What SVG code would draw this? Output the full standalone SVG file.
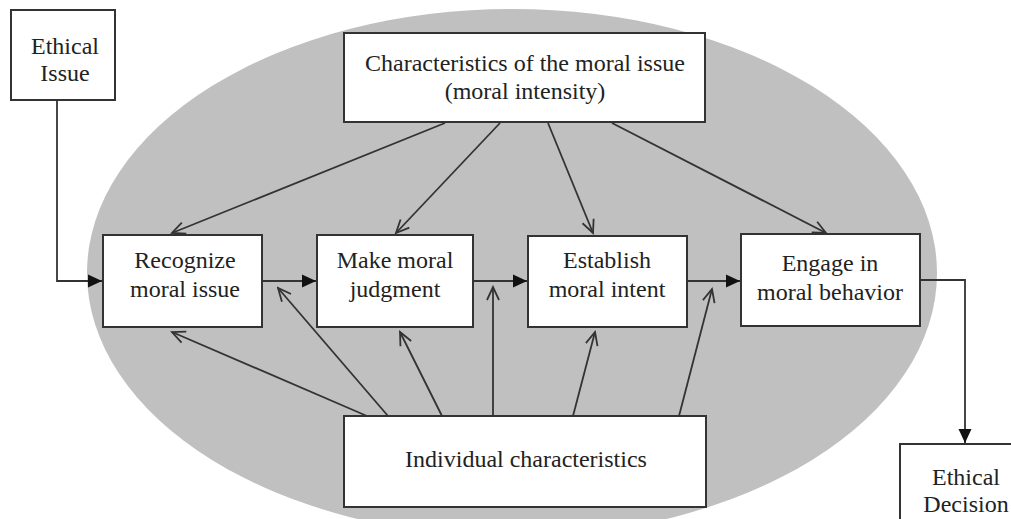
<svg xmlns="http://www.w3.org/2000/svg" width="1011" height="519" viewBox="0 0 1011 519">
<style>
.box{fill:#fff;stroke:#333;stroke-width:2}
.t{font-family:"Liberation Serif","DejaVu Serif",serif;font-size:24px;fill:#222;text-anchor:middle}
.ln{fill:none;stroke:#333;stroke-width:1.8}
.open{marker-end:url(#open)}
.fill{marker-end:url(#solid)}
</style>
<defs>
<marker id="open" markerUnits="userSpaceOnUse" viewBox="-14 -8 16 16" refX="0" refY="0" markerWidth="16" markerHeight="16" orient="auto">
<path d="M-13,-6 L0,0 L-13,6" fill="none" stroke="#333" stroke-width="1.8"/>
</marker>
<marker id="solid" markerUnits="userSpaceOnUse" viewBox="-15 -8 16 16" refX="0" refY="0" markerWidth="16" markerHeight="16" orient="auto">
<path d="M-14,-6.5 L0,0 L-14,6.5 Z" fill="#111"/>
</marker>
</defs>
<rect width="1011" height="519" fill="#fff"/>
<ellipse id="background" cx="512" cy="273" rx="425" ry="264" fill="#c0c0c0"/>
<g id="connectors">
<polyline class="ln fill" points="57,100 57,281 102,281"/>
<line class="ln fill" x1="262" y1="281" x2="316" y2="281"/>
<line class="ln fill" x1="473" y1="281" x2="527" y2="281"/>
<line class="ln fill" x1="687" y1="281" x2="740" y2="281"/>
<polyline class="ln fill" points="920,280 965,280 965,443"/>
<line class="ln open" x1="445" y1="123" x2="172" y2="233"/>
<line class="ln open" x1="500" y1="123" x2="396" y2="233"/>
<line class="ln open" x1="548" y1="123" x2="593" y2="233"/>
<line class="ln open" x1="612" y1="123" x2="826" y2="233"/>
<line class="ln open" x1="367" y1="416" x2="172" y2="332"/>
<line class="ln open" x1="388" y1="416" x2="278" y2="288"/>
<line class="ln open" x1="442" y1="416" x2="400" y2="332"/>
<line class="ln open" x1="493" y1="416" x2="493" y2="287"/>
<line class="ln open" x1="573" y1="416" x2="595" y2="332"/>
<line class="ln open" x1="679" y1="416" x2="712" y2="289"/>
</g>
<g id="ethical-issue">
<rect class="box" x="11" y="10" width="104" height="90"/>
<text class="t" x="65" y="54">Ethical</text>
<text class="t" x="65" y="81">Issue</text>
</g>
<g id="characteristics">
<rect class="box" x="344" y="33" width="361" height="89"/>
<text class="t" x="525" y="71">Characteristics of the moral issue</text>
<text class="t" x="525" y="99">(moral intensity)</text>
</g>
<g id="recognize">
<rect class="box" x="103" y="235" width="159" height="92"/>
<text class="t" x="185" y="268">Recognize</text>
<text class="t" x="185" y="297">moral issue</text>
</g>
<g id="judgment">
<rect class="box" x="317" y="235" width="156" height="92"/>
<text class="t" x="395" y="268">Make moral</text>
<text class="t" x="395" y="297">judgment</text>
</g>
<g id="intent">
<rect class="box" x="528" y="236" width="159" height="91"/>
<text class="t" x="607" y="268">Establish</text>
<text class="t" x="607" y="297">moral intent</text>
</g>
<g id="behavior">
<rect class="box" x="741" y="234" width="179" height="92"/>
<text class="t" x="830" y="271">Engage in</text>
<text class="t" x="830" y="300">moral behavior</text>
</g>
<g id="individual">
<rect class="box" x="344" y="416" width="362" height="91"/>
<text class="t" x="526" y="467">Individual characteristics</text>
</g>
<g id="ethical-decision">
<rect class="box" x="900" y="444" width="120" height="90"/>
<text class="t" x="966" y="485">Ethical</text>
<text class="t" x="966" y="512">Decision</text>
</g>
</svg>
